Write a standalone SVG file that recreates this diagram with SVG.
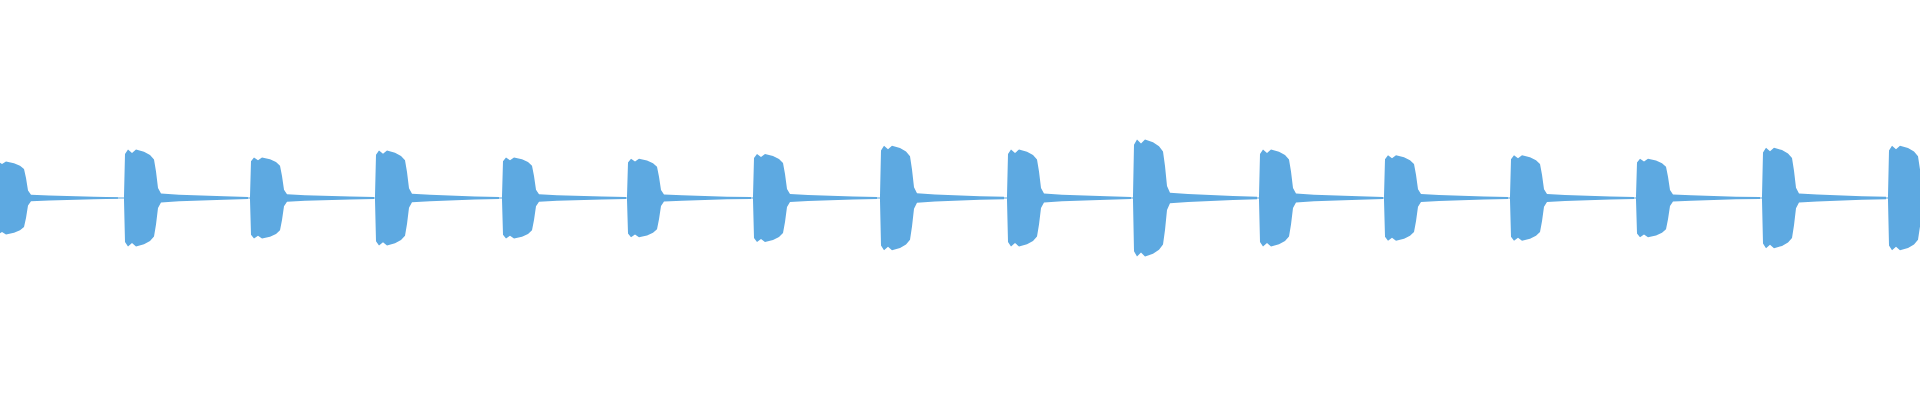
<svg xmlns="http://www.w3.org/2000/svg" width="1920" height="400" viewBox="0 0 1920 400">
<defs>
<style>.w{fill:#5DA9E1}.l{stroke:#5DA9E1;stroke-width:1.2}</style>
<path id="b" class="w" d="M0,-2 L1,-40 L4,-44 L8,-41 L12,-44 L20,-42 L26,-39 L30,-35 L32,-24 L34,-9 L37,-4 L55,-3 L100,-1.5 L124,-1 L124,1 L100,1.5 L55,3 L37,4 L34,9 L32,24 L30,35 L26,39 L20,42 L12,44 L8,41 L4,44 L1,40 L0,2 Z"/>
</defs>
<rect width="1920" height="400" fill="#fff"/>
<line class="l" x1="0" y1="198" x2="1920" y2="198"/>
<use href="#b" transform="translate(-6,198) scale(1,0.83)"/>
<use href="#b" transform="translate(124,198) scale(1,1.1)"/>
<use href="#b" transform="translate(250,198) scale(1,0.92)"/>
<use href="#b" transform="translate(375,198) scale(1,1.08)"/>
<use href="#b" transform="translate(502,198) scale(1,0.92)"/>
<use href="#b" transform="translate(627,198) scale(1,0.89)"/>
<use href="#b" transform="translate(753,198) scale(1,1.0)"/>
<use href="#b" transform="translate(880,198) scale(1,1.19)"/>
<use href="#b" transform="translate(1007,198) scale(1,1.1)"/>
<use href="#b" transform="translate(1133,198) scale(1,1.33)"/>
<use href="#b" transform="translate(1259,198) scale(1,1.1)"/>
<use href="#b" transform="translate(1384,198) scale(1,0.97)"/>
<use href="#b" transform="translate(1510,198) scale(1,0.97)"/>
<use href="#b" transform="translate(1636,198) scale(1,0.89)"/>
<use href="#b" transform="translate(1762,198) scale(1,1.14)"/>
<use href="#b" transform="translate(1888,198) scale(1,1.19)"/>
</svg>
